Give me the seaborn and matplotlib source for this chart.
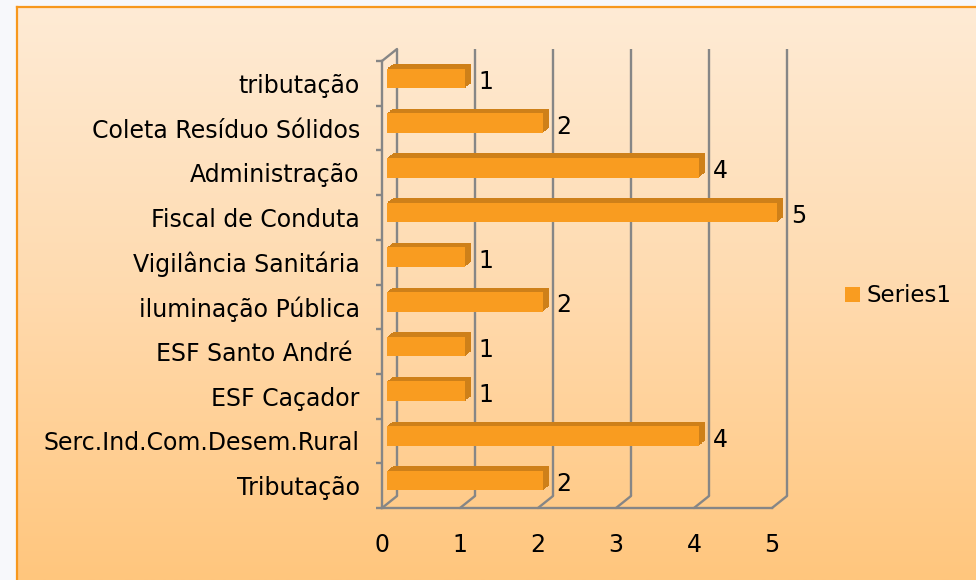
import numpy as np
import pandas as pd
import seaborn as sns
import matplotlib
matplotlib.use("Agg")
import matplotlib.pyplot as plt
from matplotlib.transforms import ScaledTranslation
from matplotlib import patheffects as pe
from matplotlib.patches import Patch
from matplotlib.colors import LinearSegmentedColormap

# ---- data ----
categories = ["tributação", "Coleta Resíduo Sólidos", "Administração",
              "Fiscal de Conduta", "Vigilância Sanitária", "iluminação Pública",
              "ESF Santo André ", "ESF Caçador", "Serc.Ind.Com.Desem.Rural",
              "Tributação"]
values = [1, 2, 4, 5, 1, 2, 1, 1, 4, 2]
series_name = "Series1"
x_ticks = [0, 1, 2, 3, 4, 5]

# ---- style ----
sns.set_style("white")
plt.rcParams["font.family"] = ["DejaVu Sans"]
W, H, DPI = 976, 580, 100
bar_color = "#F99C20"
depth_color = "#CE8019"
grid_c = "#868686"
FS = 17
FSX = 17
FSV = 17
FSL = 16.5


def fx(px):
    return px / W


def fy(py):
    return 1 - py / H


fig = plt.figure(figsize=(W / DPI, H / DPI), dpi=DPI, facecolor="#F7F8FB")

# background panel with gradient and orange border
bg = fig.add_axes([fx(17), 0, 1 - fx(17), fy(7)])
grad = np.linspace(0, 1, 256)[:, None]
cmap = LinearSegmentedColormap.from_list("g", ["#FEEBD5", "#FFDAAE", "#FFC67D"])
bg.imshow(grad, aspect="auto", cmap=cmap, extent=[0, 1, 0, 1], origin="upper")
bg.set_xticks([])
bg.set_yticks([])
for s in ["right", "bottom"]:
    bg.spines[s].set_visible(False)
for s in ["left", "top"]:
    bg.spines[s].set_color("#F7981D")
    bg.spines[s].set_linewidth(1.6)

# main axes
ax = fig.add_axes([fx(382), fy(508), fx(772) - fx(382), (508 - 61) / H])
ax.patch.set_alpha(0)

df = pd.DataFrame({"cat": categories, "val": values})
sns.barplot(data=df, y="cat", x="val", orient="h", color=bar_color,
            saturation=1, width=0.44, linewidth=0, ax=ax, zorder=3)

ax.set_xlim(0, 5)
ax.set_ylim(len(categories) - 0.5, -0.5)

# pseudo-3D: shift bars and extrude
bar_off = ScaledTranslation(5 / DPI, 5 / DPI, fig.dpi_scale_trans)
effects = []
n = 8
for k in range(n, 0, -1):
    effects.append(pe.SimplePatchShadow(offset=(k * 5.5 / n * 0.72, k * 4.5 / n * 0.72),
                                        shadow_rgbFace=depth_color, alpha=1.0))
effects.append(pe.Normal())
for p in ax.patches:
    p.set_transform(ax.transData + bar_off)
    p.set_clip_on(False)
    p.set_path_effects(effects)

# back wall gridlines
back_off = ScaledTranslation(15 / DPI, 12 / DPI, fig.dpi_scale_trans)
ybot, ytop = len(categories) - 0.5, -0.5
LW = 1.7
ax.vlines(x_ticks, ybot, ytop, colors=grid_c, lw=LW,
          transform=ax.transData + back_off, clip_on=False, zorder=1)
for x in x_ticks:
    ax.annotate("", xy=(x, ybot), xycoords="data",
                xytext=(15 * 0.72, 12 * 0.72), textcoords="offset points",
                arrowprops=dict(arrowstyle="-", color=grid_c, lw=LW,
                                shrinkA=0, shrinkB=0), annotation_clip=False)
ax.annotate("", xy=(0, ytop), xycoords="data",
            xytext=(15 * 0.72, 12 * 0.72), textcoords="offset points",
            arrowprops=dict(arrowstyle="-", color=grid_c, lw=LW,
                            shrinkA=0, shrinkB=0), annotation_clip=False)

# spines and ticks
for s in ["top", "right"]:
    ax.spines[s].set_visible(False)
for s in ["left", "bottom"]:
    ax.spines[s].set_color(grid_c)
    ax.spines[s].set_linewidth(LW)

ax.set_xticks(x_ticks)
ax.set_xticklabels([str(t) for t in x_ticks])
ax.tick_params(axis="x", length=4.3, width=LW, color=grid_c, labelsize=FSX,
               pad=14, labelcolor="black")
ax.set_yticks(range(len(categories)))
ax.set_yticklabels(categories)
ax.set_yticks(np.arange(-0.5, len(categories), 1), minor=True)
ax.tick_params(axis="y", which="major", length=0, labelsize=FS, pad=16,
               labelcolor="black")
ax.tick_params(axis="y", which="minor", length=4.3, width=LW, color=grid_c,
               left=True)
ax.set_xlabel("")
ax.set_ylabel("")

# value labels
for i, v in enumerate(values):
    ax.annotate(str(v), xy=(v, i), xycoords="data", xytext=(13.5, 1),
                textcoords="offset points", ha="left", va="center",
                fontsize=FSV, color="black", annotation_clip=False)

# legend
fig.legend(handles=[Patch(facecolor=bar_color, edgecolor="none")],
           labels=[series_name], loc="center left",
           bbox_to_anchor=(fx(845), fy(296)), frameon=False, fontsize=FSL,
           handlelength=0.65, handleheight=0.65, handletextpad=0.3,
           borderpad=0, borderaxespad=0, labelcolor="black")

fig.savefig("out.png", dpi=DPI, facecolor=fig.get_facecolor())
